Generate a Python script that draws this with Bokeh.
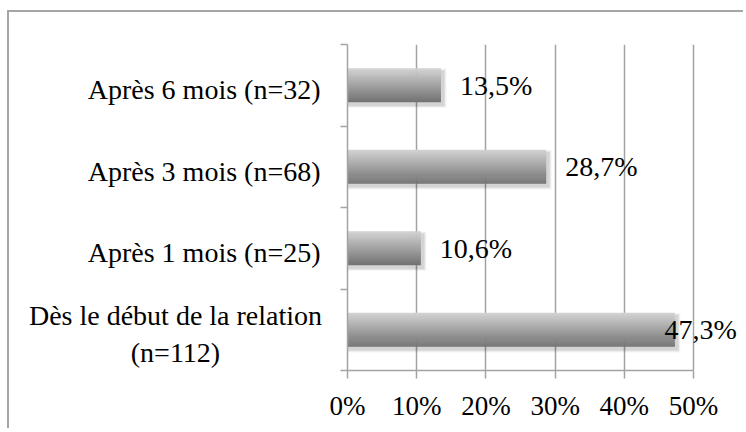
from bokeh.plotting import figure
from bokeh.models import Range1d, FixedTicker
from bokeh.core.properties import value
from bokeh.embed import file_html
from bokeh.resources import INLINE

# ---- data (bottom to top) ----
categories = ["Dès le début de la relation\n(n=112)", "Après 1 mois (n=25)",
              "Après 3 mois (n=68)", "Après 6 mois (n=32)"]
values = [47.3, 10.6, 28.7, 13.5]
value_labels = ["47,3%", "10,6%", "28,7%", "13,5%"]
x_ticks = [0, 10, 20, 30, 40, 50]
x_tick_labels = ["0%", "10%", "20%", "30%", "40%", "50%"]

FONT = "Liberation Serif"
GRID = "#a3a3a3"

W, H = 736, 418
LEFT, RIGHT, TOP, BOTTOM = 338, 8, 32, 60
frame_w = W - LEFT - RIGHT
X_END = 56.35
ppx = frame_w / X_END          # pixels per percent
ppy = (H - TOP - BOTTOM) / len(categories)  # pixels per band

p = figure(width=W, height=H, output_backend="svg", toolbar_location=None,
           x_range=Range1d(0, X_END), y_range=Range1d(0, len(categories)),
           min_border_left=LEFT, min_border_right=RIGHT,
           min_border_top=TOP, min_border_bottom=BOTTOM)
p.outline_line_color = None
p.background_fill_color = "white"
p.border_fill_color = "white"
p.styles = {"margin-left": "7px", "margin-top": "10px",
            "border-top": "2px solid #a6a6a6", "border-left": "2px solid #a6a6a6"}

centers = [i + 0.5 for i in range(len(categories))]
bar_h = 0.41

# shadow
for k, a in enumerate([0.04, 0.06, 0.08]):
    grow = (3 - k) * 1.0
    p.hbar(y=[c - 3.0 / ppy for c in centers], left=0,
           right=[v + (2.5 + grow) / ppx for v in values],
           height=bar_h + 2 * grow / ppy, fill_color="black", fill_alpha=a,
           line_color=None)

# gradient bars
N = 34
top_rgb = (0xd2, 0xd2, 0xd2)
bot_rgb = (0x74, 0x74, 0x74)
slice_h = bar_h / N
for k in range(N):
    t = k / (N - 1)
    rgb = tuple(int(round(top_rgb[j] + (bot_rgb[j] - top_rgb[j]) * t)) for j in range(3))
    col = "#%02x%02x%02x" % rgb
    off = bar_h / 2 - (k + 0.5) * slice_h
    p.hbar(y=[c + off for c in centers], left=0, right=values,
           height=slice_h * 1.6, fill_color=col, line_color=None)

# value labels
gap = 19 / ppx
lab_w = 73 / ppx
fit_x, fit_y, fit_t, of_y, of_t = [], [], [], [], []
for c, v, t in zip(centers, values, value_labels):
    if v + gap + lab_w <= X_END:
        fit_x.append(v + gap); fit_y.append(c); fit_t.append(t)
    else:
        of_y.append(c); of_t.append(t)
p.text(x=fit_x, y=fit_y, text=fit_t, text_font=value(FONT), text_font_size="28px",
       text_align="left", text_baseline="middle", text_color="black")
p.text(x=[X_END - 0.1] * len(of_y), y=of_y, text=of_t, text_font=value(FONT),
       text_font_size="28px", text_align="right", text_baseline="middle",
       text_color="black")

# x axis
xa = p.xaxis[0]
xa.ticker = FixedTicker(ticks=x_ticks)
xa.major_label_overrides = {t: l for t, l in zip(x_ticks, x_tick_labels)}
xa.bounds = (x_ticks[0], x_ticks[-1])
xa.major_tick_out = 8
xa.major_tick_in = 0
xa.minor_tick_out = 0
xa.minor_tick_in = 0
xa.axis_line_color = GRID
xa.axis_line_width = 1.5
xa.major_tick_line_color = GRID
xa.major_tick_line_width = 1.5
xa.major_label_text_font = FONT
xa.major_label_text_font_size = "27px"
xa.major_label_text_color = "black"
xa.major_label_standoff = 12

p.xgrid.ticker = FixedTicker(ticks=x_ticks)
p.xgrid.grid_line_color = GRID
p.xgrid.grid_line_width = 1.5
p.ygrid.grid_line_color = None

# y axis: single-line labels on the axis; multi-line labels centred as text
ya = p.yaxis[0]
shift = 4.5 / ppy
ytick = [c - shift for c in centers]
ya.ticker = FixedTicker(ticks=ytick, minor_ticks=list(range(len(categories) + 1)))
ya.major_label_overrides = {t: ("" if "\n" in l else l) for t, l in zip(ytick, categories)}
ya.major_tick_out = 0
ya.major_tick_in = 0
ya.minor_tick_out = 7
ya.minor_tick_in = 0
ya.minor_tick_line_color = GRID
ya.minor_tick_line_width = 1.5
ya.axis_line_color = GRID
ya.axis_line_width = 1.5
ya.major_label_text_font = FONT
ya.major_label_text_font_size = "28px"
ya.major_label_text_color = "black"
ya.major_label_standoff = 20

ml_y = [t for t, l in zip(ytick, categories) if "\n" in l]
ml_t = [l for l in categories if "\n" in l]
r = p.text(x=[-172 / ppx] * len(ml_y), y=ml_y, text=ml_t, text_font=value(FONT),
           text_font_size="28px", text_align="center", text_baseline="middle",
           text_color="black", text_line_height=1.2)
r.level = "overlay"

open("out.html", "w").write(file_html(p, INLINE))
